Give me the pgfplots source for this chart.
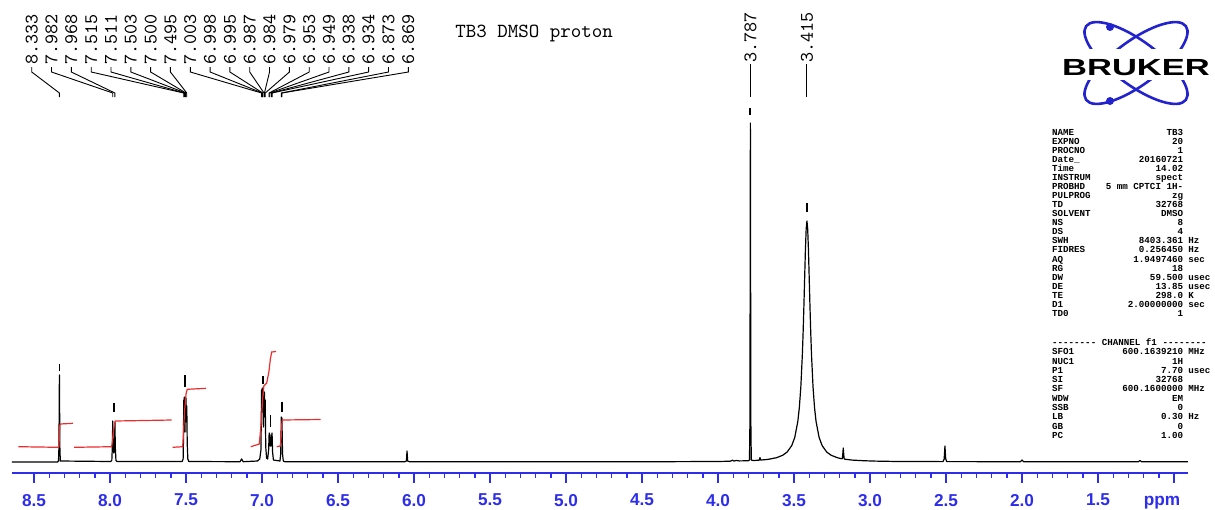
\documentclass[border=0pt]{standalone}
\usepackage{fontspec}
\setmainfont{Liberation Sans}
\newfontfamily\parfont{Liberation Mono}
\newfontfamily\logofont{Liberation Sans}
\usepackage{pgfplots}
\pgfplotsset{compat=1.18}
\definecolor{axblue}{RGB}{45,45,235}
\definecolor{intred}{RGB}{235,45,45}
\definecolor{logoblue}{RGB}{35,35,205}

\newcommand{\plab}[3]{%
  \draw[line width=0.45pt] (axis cs:#1,395) -- (axis cs:#1,390) -- (axis cs:#3,369) -- (axis cs:#3,365);
  \node[rotate=90,anchor=west,inner sep=0pt,font=\ttfamily\fontsize{9.6}{10}\selectfont] at (axis cs:#1,397) {#2};
}
\newcommand{\pmark}[3]{\draw[line width=0.9pt] (axis cs:#1,#2) -- (axis cs:#1,#3);}
\newcommand{\prm}[4]{%
  \node[anchor=base west] at (1051.7,#1) {#2};
  \node[anchor=base east] at (1183.5,#1) {#3};
  \node[anchor=base west] at (1188,#1) {#4};}
\newcommand{\hy}{-\kern0pt}

\begin{document}
\begin{tikzpicture}
\useasboundingbox (0,0) rectangle (607.5pt,-254.5pt);
\begin{axis}[
  at={(6pt,-236.5pt)}, anchor=south west,
  scale only axis, width=588pt, height=236.5pt,
  x dir=reverse, xmin=0.908, xmax=8.645, ymin=-11, ymax=462,
  axis x line=bottom, axis y line=none,
  x axis line style={-, axblue, line width=1pt},
  xtick={1,1.5,2,2.5,3,3.5,4,4.5,5,5.5,6,6.5,7,7.5,8,8.5},
  xticklabels={,1.5,2.0,2.5,3.0,3.5,4.0,4.5,5.0,5.5,6.0,6.5,7.0,7.5,8.0,8.5},
  minor x tick num=4,
  tick align=outside,
  major tick length=5pt, minor tick length=2.5pt,
  major tick style={axblue, line width=0.8pt},
  minor tick style={axblue, line width=0.7pt},
  xticklabel style={font=\bfseries\fontsize{8.6}{10}\selectfont, text=axblue},
  xticklabel shift=2pt,
  ytick=\empty,
  clip=false,
]
% spectrum
\addplot[black, line width=0.6pt, line join=round] coordinates {
(8.645,0) (8.345,0) (8.339,1) (8.336,15) (8.333,87) (8.330,15) (8.327,1)
(7.995,0.5) (7.988,2) (7.985,14) (7.982,41) (7.979,14) (7.975,9) (7.971,14) (7.968,40) (7.965,14) (7.961,1.5) (7.955,0.5)
(7.525,0.5) (7.519,3) (7.517,20) (7.515,62) (7.513,45) (7.511,65) (7.507,30) (7.503,61) (7.5015,50) (7.500,64) (7.4975,40) (7.495,56) (7.492,18) (7.488,3) (7.482,0.5)
(7.145,0.3) (7.134,3) (7.124,0.3)
(7.030,1) (7.015,3) (7.007,12) (7.003,72) (7.0005,50) (6.998,74) (6.9965,58) (6.995,70) (6.991,35) (6.987,66) (6.9855,55) (6.984,70) (6.9815,45) (6.979,62) (6.9755,15) (6.970,4)
(6.963,3) (6.9565,12) (6.953,29) (6.951,22) (6.949,28) (6.9455,16) (6.9415,16) (6.938,27) (6.936,20) (6.934,29) (6.9305,10) (6.925,2)
(6.882,1) (6.877,8) (6.873,45) (6.871,35) (6.869,44) (6.865,8) (6.860,1) (6.85,0.3)
(6.060,0.3) (6.050,1) (6.048,6) (6.046,11) (6.044,6) (6.042,1) (6.030,0.3)
(4.400,0.3) (4.000,0.5) (3.920,0.8) (3.905,1.8) (3.895,0.9) (3.880,1.6) (3.860,1.1) (3.820,1.2) (3.800,1.3)
(3.793,2) (3.790,40) (3.787,339) (3.784,40) (3.781,2)
(3.770,1.5) (3.740,1.7) (3.728,1.9) (3.724,4.5) (3.720,2) (3.700,2.2) (3.680,2.5)
(3.665,2.8) (3.615,4.3) (3.575,6.7) (3.545,10.0) (3.515,16.4) (3.495,24.6) (3.475,40.6) (3.465,54.4) (3.455,75.4) (3.445,107.8) (3.440,129.8) (3.435,155.6) (3.430,184.1) (3.425,212.0) (3.420,233.0)
(3.415,241)
(3.410,233.0) (3.405,212.0) (3.400,184.1) (3.395,155.6) (3.390,129.8) (3.385,107.8) (3.375,75.4) (3.365,54.4) (3.355,40.6) (3.335,24.6) (3.315,16.4) (3.285,10.0) (3.255,6.7) (3.215,4.3)
(3.190,3.4) (3.182,3.3) (3.179,8) (3.176,14) (3.173,8) (3.170,3.1) (3.165,2.8) (3.115,1.9) (3.045,1.3) (2.965,0.9) (2.815,0.5)
(2.520,0.4) (2.512,3) (2.507,16) (2.502,3) (2.495,0.4)
(2.010,0.3) (2.000,2) (1.990,0.3)
(1.235,0.2) (1.224,1.5) (1.213,0.2) (0.908,0.2)
};
% integrals
\addplot[intred, line width=0.6pt] coordinates {(8.603,15.3) (8.340,14.7) (8.336,16) (8.333,27) (8.330,37) (8.326,38) (8.245,38.7)};
\addplot[intred, line width=0.6pt] coordinates {(8.237,14.7) (7.989,15.3) (7.985,20) (7.978,30) (7.970,39) (7.965,41) (7.594,42)};
\addplot[intred, line width=0.6pt] coordinates {(7.588,14.7) (7.522,15.3) (7.518,25) (7.510,50) (7.500,68) (7.492,72.7) (7.368,73.7)};
\addplot[intred, line width=0.6pt] coordinates {(7.074,15.3) (7.018,18) (7.005,40) (6.995,65) (6.988,76) (6.969,79) (6.955,90) (6.945,103) (6.936,110) (6.908,110.5)};
\addplot[intred, line width=0.6pt] coordinates {(6.903,15.3) (6.880,16) (6.874,25) (6.870,38) (6.866,42) (6.614,42.5)};
% peak marks
\pmark{8.333}{91}{98}
\pmark{7.975}{50}{59}
\pmark{7.505}{75}{87}
\pmark{6.991}{78}{86}
\pmark{6.944}{35}{47}
\pmark{6.871}{50}{60}
\pmark{3.787}{347}{354}
\pmark{3.415}{250}{259}
% peak labels
\plab{8.5151}{8.333}{8.333}
\plab{8.3849}{7.982}{7.982}
\plab{8.2546}{7.968}{7.968}
\plab{8.1237}{7.515}{7.515}
\plab{7.9934}{7.511}{7.511}
\plab{7.8632}{7.503}{7.503}
\plab{7.7329}{7.500}{7.500}
\plab{7.6026}{7.495}{7.495}
\plab{7.4717}{7.003}{7.003}
\plab{7.3414}{6.998}{6.998}
\plab{7.2112}{6.995}{6.995}
\plab{7.0809}{6.987}{6.987}
\plab{6.9507}{6.984}{6.984}
\plab{6.8197}{6.979}{6.979}
\plab{6.6895}{6.953}{6.953}
\plab{6.5592}{6.949}{6.949}
\plab{6.4289}{6.938}{6.938}
\plab{6.2987}{6.934}{6.934}
\plab{6.1678}{6.873}{6.873}
\plab{6.0375}{6.869}{6.869}
\draw[line width=0.45pt] (axis cs:3.787,398) -- (axis cs:3.787,365);
\node[rotate=90,anchor=west,inner sep=0pt,font=\ttfamily\fontsize{9.6}{10}\selectfont] at (axis cs:3.787,399) {3.787};
\draw[line width=0.45pt] (axis cs:3.415,398) -- (axis cs:3.415,365);
\node[rotate=90,anchor=west,inner sep=0pt,font=\ttfamily\fontsize{9.6}{10}\selectfont] at (axis cs:3.415,399) {3.415};
\node[anchor=west,inner sep=0pt,font=\ttfamily\fontsize{10}{12}\selectfont] at (axis cs:5.730,429) {TB3 DMSO proton};
\node[anchor=base,inner sep=0pt,text=axblue,font=\bfseries\fontsize{8.6}{10}\selectfont] at (axis cs:1.079,-43) {ppm};
\end{axis}
% parameters and logo (pixel coordinates)
\begin{scope}[x=0.5pt,y=-0.5pt, every node/.style={inner sep=0pt,font=\parfont\bfseries\fontsize{4.6}{5}\selectfont}]
\prm{135.3}{NAME}{TB3}{}
\prm{144.35}{EXPNO}{20}{}
\prm{153.4}{PROCNO}{1}{}
\prm{162.45}{Date\_}{20160721}{}
\prm{171.5}{Time}{14.02}{}
\prm{180.55}{INSTRUM}{spect}{}
\prm{189.6}{PROBHD}{5 mm CPTCI 1H\hy}{}
\prm{198.65}{PULPROG}{zg}{}
\prm{207.7}{TD}{32768}{}
\prm{216.75}{SOLVENT}{DMSO}{}
\prm{225.8}{NS}{8}{}
\prm{234.85}{DS}{4}{}
\prm{243.9}{SWH}{8403.361}{Hz}
\prm{252.95}{FIDRES}{0.256450}{Hz}
\prm{262}{AQ}{1.9497460}{sec}
\prm{271.05}{RG}{18}{}
\prm{280.1}{DW}{59.500}{usec}
\prm{289.15}{DE}{13.85}{usec}
\prm{298.2}{TE}{298.0}{K}
\prm{307.25}{D1}{2.00000000}{sec}
\prm{316.3}{TD0}{1}{}
\node[anchor=base west] at (1051.7,345.3) {\hy\hy\hy\hy\hy\hy\hy\hy\ CHANNEL f1 \hy\hy\hy\hy\hy\hy\hy\hy};
\prm{354.7}{SFO1}{600.1639210}{MHz}
\prm{364}{NUC1}{1H}{}
\prm{373.3}{P1}{7.70}{usec}
\prm{382.6}{SI}{32768}{}
\prm{391.9}{SF}{600.1600000}{MHz}
\prm{401.2}{WDW}{EM}{}
\prm{410.5}{SSB}{0}{}
\prm{419.8}{LB}{0.30}{Hz}
\prm{429.1}{GB}{0}{}
\prm{438.4}{PC}{1.00}{}
% logo
\draw[logoblue, line width=1.3pt, rotate around={-36.5:(1136,63)}] (1136,63) ellipse (62 and 22);
\draw[logoblue, line width=1.3pt, rotate around={36.5:(1136,63)}] (1136,63) ellipse (62 and 22);
\fill[logoblue] (1110,27) circle (4);
\fill[logoblue] (1110,101) circle (4);
\fill[white] (1070,49) rectangle (1205,80);
\node[anchor=base, xscale=1.48, inner sep=0pt, font=\logofont\bfseries\fontsize{11.66}{12}\selectfont] at (1136,75) {BRUKER};
\end{scope}
\end{tikzpicture}
\end{document}
